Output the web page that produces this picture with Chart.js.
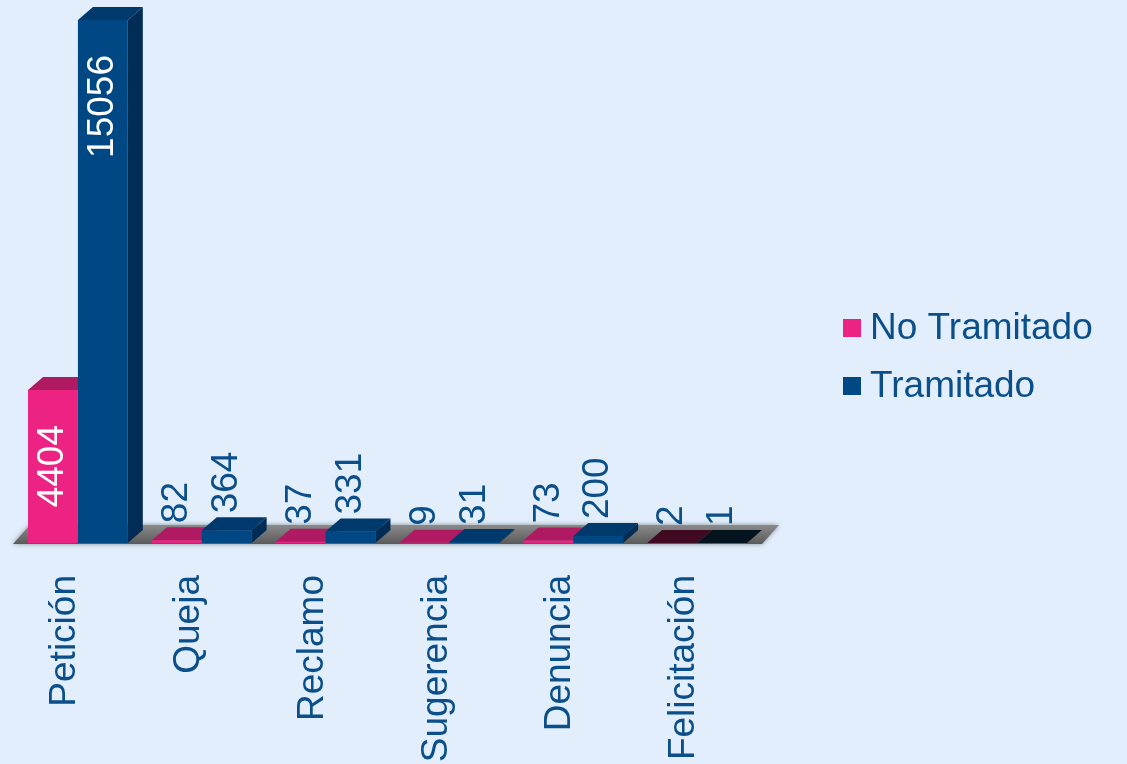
<!DOCTYPE html>
<html>
<head>
<meta charset="utf-8">
<script src="https://cdn.jsdelivr.net/npm/chart.js@4.4.1/dist/chart.umd.min.js"></script>
<style>
  html, body { margin: 0; padding: 0; background: #e3eefc; }
  #wrap { width: 1127px; height: 764px; }
</style>
</head>
<body>
<div id="wrap"><canvas id="myChart"></canvas></div>
<script>
// data
const categories = ['Petición', 'Queja', 'Reclamo', 'Sugerencia', 'Denuncia', 'Felicitación'];
const seriesNames = ['No Tramitado', 'Tramitado'];
const noTramitado = [4404, 82, 37, 9, 73, 2];
const tramitado = [15056, 364, 331, 31, 200, 1];

// 3d look
const DX = 15, DY = 13;
const textColor = '#0a4f8a';
const font = 'Liberation Sans, Arial, sans-serif';
const fontSize = 37;

const pinkFront = ['#ec2383', '#ec2383', '#ec2383', '#ec2383', '#ec2383', '#4a0d27'];
const pinkTop = ['#b01a62', '#b01a62', '#b01a62', '#b01a62', '#b01a62', '#400a22'];
const pinkSide = ['#9c1757', '#9c1757', '#9c1757', '#9c1757', '#9c1757', '#30081a'];
const blueFront = ['#004884', '#004884', '#004884', '#004884', '#004884', '#061824'];
const blueTop = ['#003a6c', '#003a6c', '#003a6c', '#003a6c', '#003a6c', '#03141f'];
const blueSide = ['#002c55', '#002c55', '#002c55', '#002c55', '#002c55', '#020d15'];
const legendColors = ['#ec2383', '#004884'];

const bars3d = {
  id: 'bars3d',
  beforeDatasetsDraw(chart) {
    const ctx = chart.ctx;
    const area = chart.chartArea;
    const base = chart.scales.y.getPixelForValue(0);

    // floor
    ctx.save();
    ctx.shadowColor = 'rgba(0,0,0,0.4)';
    ctx.shadowBlur = 5;
    const g = ctx.createLinearGradient(0, base - 18, 0, base + 1);
    g.addColorStop(0, '#8a8a8a');
    g.addColorStop(1, '#5a5a5a');
    ctx.fillStyle = g;
    ctx.beginPath();
    ctx.moveTo(area.left - 3, base + 1);
    ctx.lineTo(area.right + 3, base + 1);
    ctx.lineTo(area.right + 20, base - 18);
    ctx.lineTo(area.left + 14, base - 18);
    ctx.closePath();
    ctx.fill();
    ctx.restore();

    chart.data.datasets.forEach((ds, i) => {
      const meta = chart.getDatasetMeta(i);
      meta.data.forEach((bar, j) => {
        const l = bar.x - bar.width / 2;
        const r = bar.x + bar.width / 2;
        const top = bar.y, bot = bar.base;
        ctx.fillStyle = ds.sideColors[j];
        ctx.beginPath();
        ctx.moveTo(r, top);
        ctx.lineTo(r + DX, top - DY);
        ctx.lineTo(r + DX, bot - DY);
        ctx.lineTo(r, bot);
        ctx.closePath();
        ctx.fill();
        ctx.fillStyle = ds.topColors[j];
        ctx.beginPath();
        ctx.moveTo(l, top);
        ctx.lineTo(l + DX, top - DY);
        ctx.lineTo(r + DX, top - DY);
        ctx.lineTo(r, top);
        ctx.closePath();
        ctx.fill();
      });
    });
  },
  afterDatasetsDraw(chart) {
    const ctx = chart.ctx;
    ctx.save();
    ctx.font = fontSize + 'px ' + font;
    ctx.textBaseline = 'middle';
    chart.data.datasets.forEach((ds, i) => {
      const meta = chart.getDatasetMeta(i);
      meta.data.forEach((bar, j) => {
        const v = ds.data[j];
        const inside = bar.base - bar.y > 120;
        ctx.save();
        if (inside) {
          ctx.translate(bar.x, bar.y + 35);
          ctx.rotate(-Math.PI / 2);
          ctx.textAlign = 'right';
          ctx.fillStyle = '#ffffff';
        } else {
          ctx.translate(bar.x, bar.y - 17);
          ctx.rotate(-Math.PI / 2);
          ctx.textAlign = 'left';
          ctx.fillStyle = textColor;
        }
        ctx.fillText(String(v), 0, 0);
        ctx.restore();
      });
    });
    ctx.restore();
  },
  afterDraw(chart) {
    // legend on the right
    const ctx = chart.ctx;
    ctx.save();
    ctx.font = fontSize + 'px ' + font;
    ctx.textBaseline = 'middle';
    ctx.textAlign = 'left';
    chart.data.datasets.forEach((ds, i) => {
      const cy = 328 + i * 58;
      ctx.fillStyle = legendColors[i];
      ctx.fillRect(843, cy - 9, 18, 18);
      ctx.fillStyle = textColor;
      ctx.fillText(ds.label, 870, cy + 1);
    });
    ctx.restore();
  }
};

new Chart('myChart', {
  type: 'bar',
  data: {
    labels: categories,
    datasets: [{
      label: seriesNames[0],
      data: noTramitado,
      backgroundColor: pinkFront,
      topColors: pinkTop,
      sideColors: pinkSide,
      categoryPercentage: 0.806,
      barPercentage: 1
    }, {
      label: seriesNames[1],
      data: tramitado,
      backgroundColor: blueFront,
      topColors: blueTop,
      sideColors: blueSide,
      categoryPercentage: 0.806,
      barPercentage: 1
    }]
  },
  options: {
    responsive: true,
    maintainAspectRatio: false,
    animation: false,
    layout: { padding: { left: 16, top: 20, right: 368, bottom: 0 } },
    plugins: {
      legend: { display: false },
      tooltip: { enabled: false }
    },
    scales: {
      x: {
        grid: { display: false },
        border: { display: false },
        ticks: {
          color: textColor,
          font: { family: font, size: fontSize },
          minRotation: 90,
          maxRotation: 90,
          autoSkip: false,
          labelOffset: -13,
          padding: 24
        },
        afterFit(s) { s.height = 764 - 543; }
      },
      y: {
        display: false,
        min: 0,
        max: 15056
      }
    }
  },
  plugins: [bars3d]
});
</script>
</body>
</html>
